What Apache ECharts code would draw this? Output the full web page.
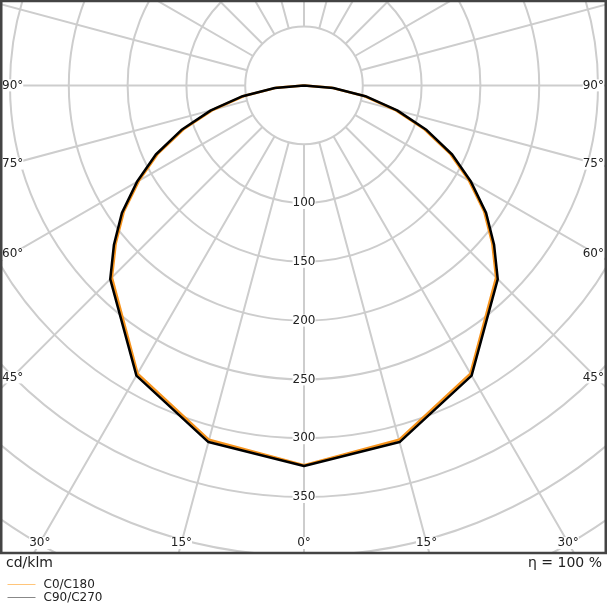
<!DOCTYPE html>
<html>
<head>
<meta charset="utf-8">
<script src="https://cdn.jsdelivr.net/npm/echarts@6.0.0/dist/echarts.min.js"></script>
<style>
  html, body { margin: 0; padding: 0; background: #fff; }
  #chartContainer { width: 608px; height: 608px; }
</style>
</head>
<body>
<div id="chartContainer"></div>
<script>
// gamma angles (deg from nadir) and intensities in cd/klm
var GAMMAS = [0, 15, 30, 45, 50, 55, 60, 65, 70, 75, 80, 85, 90];
var C0_C180 = [323, 312, 283, 231, 209, 187, 162, 137, 109, 80, 52, 24, 0];
var C90_C270 = [323.6, 314, 285, 233, 211, 189, 164, 139, 111, 82, 53, 25, 0];
var ANGLE_LABELS = [0, 15, 30, 45, 60, 75, 90];
var RADIUS_LABELS = [100, 150, 200, 250, 300, 350];

var FONT = '"DejaVu Sans", sans-serif';
var CX = 304, CY = 85.4;          // polar centre on the page
var PX_PER_50 = 58.8;             // one ring = 50 cd/klm
var FRAME = { x: 1.25, y: 1, w: 604.5, h: 552 };
var GRID_LINE = { color: '#cdcdcd', width: 2 };

// left half uses angle values 90..0, right half 360..270
function buildCurve(values) {
  var pts = [];
  for (var i = GAMMAS.length - 1; i >= 0; i--) {
    pts.push([values[i], GAMMAS[i]]);
  }
  for (var j = 1; j < GAMMAS.length; j++) {
    pts.push([values[j], 360 - GAMMAS[j]]);
  }
  return pts;
}

function angleLabelTexts() {
  var out = [];
  ANGLE_LABELS.forEach(function (a) {
    var rad = a * Math.PI / 180;
    var sides = a === 0 ? [0] : [-1, 1];
    sides.forEach(function (s) {
      var el = {
        type: 'text', z: 12,
        style: {
          text: a + '°', fill: '#222', font: '12px ' + FONT,
          backgroundColor: '#fff', verticalAlign: 'middle'
        }
      };
      if (a <= 30) {
        el.style.x = CX + s * (543 - CY) * Math.tan(rad);
        el.style.y = 543;
        el.style.align = 'center';
      } else {
        var dy = a === 90 ? 0 : (CX - 12) / Math.tan(rad);
        el.style.y = CY + dy;
        el.style.x = s < 0 ? 2 : 604;
        el.style.align = s < 0 ? 'left' : 'right';
      }
      out.push(el);
    });
  });
  return out;
}

var CHART;
var CHART_OPTION = {
  animation: false,
  backgroundColor: '#fff',
  polar: [
    // grid: rings from 50 outwards, no spokes inside the first ring
    { center: [CX, CY], radius: [PX_PER_50, PX_PER_50 * 10] },
    // curves: full radius from 0
    { center: [CX, CY], radius: [0, PX_PER_50 * 10] }
  ],
  angleAxis: [
    {
      polarIndex: 0,
      type: 'value', min: 0, max: 360, interval: 15,
      startAngle: 270, clockwise: true, z: 0,
      axisLine: { show: false },
      axisTick: { show: false },
      axisLabel: { show: false },
      splitLine: { show: true, lineStyle: GRID_LINE }
    },
    {
      polarIndex: 1,
      type: 'value', min: 0, max: 360,
      startAngle: 270, clockwise: true,
      axisLine: { show: false },
      axisTick: { show: false },
      axisLabel: { show: false },
      splitLine: { show: false }
    }
  ],
  radiusAxis: [
    {
      polarIndex: 0,
      type: 'value', min: 50, max: 500, interval: 50, z: 1,
      axisLine: { show: false },
      axisTick: { show: false },
      splitLine: { show: true, lineStyle: GRID_LINE },
      axisLabel: {
        show: true,
        margin: 0,
        align: 'center',
        verticalAlign: 'middle',
        color: '#222',
        fontSize: 12,
        fontFamily: FONT,
        backgroundColor: '#fff',
        formatter: function (v) {
          return RADIUS_LABELS.indexOf(v) >= 0 ? String(v) : '';
        }
      }
    },
    {
      polarIndex: 1,
      type: 'value', min: 0, max: 500,
      axisLine: { show: false },
      axisTick: { show: false },
      axisLabel: { show: false },
      splitLine: { show: false }
    }
  ],
  legend: {
    orient: 'vertical',
    left: 7,
    top: 578,
    padding: 0,
    itemGap: 0,
    itemWidth: 28,
    itemHeight: 10,
    z: 20,
    itemStyle: { opacity: 0 },
    textStyle: { fontFamily: FONT, fontSize: 12, color: '#222', lineHeight: 13, padding: [0, 0, 0, 3] },
    data: [
      { name: 'C0/C180', lineStyle: { color: '#ffc57a', width: 1 } },
      { name: 'C90/C270', lineStyle: { color: '#888888', width: 1 } }
    ]
  },
  graphic: [],
  series: [
    {
      name: 'C0/C180',
      type: 'line',
      coordinateSystem: 'polar',
      polarIndex: 1,
      symbol: 'none',
      clip: false,
      z: 3,
      itemStyle: { color: '#f7941d' },
      lineStyle: { color: '#f7941d', width: 2.5 },
      data: buildCurve(C0_C180)
    },
    {
      name: 'C90/C270',
      type: 'line',
      coordinateSystem: 'polar',
      polarIndex: 1,
      symbol: 'none',
      clip: false,
      z: 4,
      itemStyle: { color: '#000' },
      lineStyle: { color: '#000', width: 2.5 },
      data: buildCurve(C90_C270)
    }
  ]
};

CHART_OPTION.graphic = [
  // keep the rings inside the frame
  { type: 'rect', z: 10, shape: { x: 0, y: FRAME.y + FRAME.h + 1, width: 608, height: 60 }, style: { fill: '#fff' } },
  { type: 'rect', z: 10, shape: { x: FRAME.x + FRAME.w + 1, y: 0, width: 10, height: 608 }, style: { fill: '#fff' } },
  { type: 'rect', z: 15, shape: { x: FRAME.x, y: FRAME.y, width: FRAME.w, height: FRAME.h }, style: { fill: 'none', stroke: '#444', lineWidth: 2.5 } },
  { type: 'text', z: 16, style: { text: 'cd/klm', x: 6, y: 563, verticalAlign: 'middle', fill: '#222', font: '14px ' + FONT } },
  { type: 'text', z: 16, style: { text: 'η = 100 %', x: 602, y: 563, align: 'right', verticalAlign: 'middle', fill: '#222', font: '14px ' + FONT } }
].concat(angleLabelTexts());

window.onload = _ => {
  CHART = echarts.init(document.getElementById('chartContainer'), null, { renderer: 'canvas' });
  CHART.setOption(CHART_OPTION);
};
</script>
</body>
</html>
